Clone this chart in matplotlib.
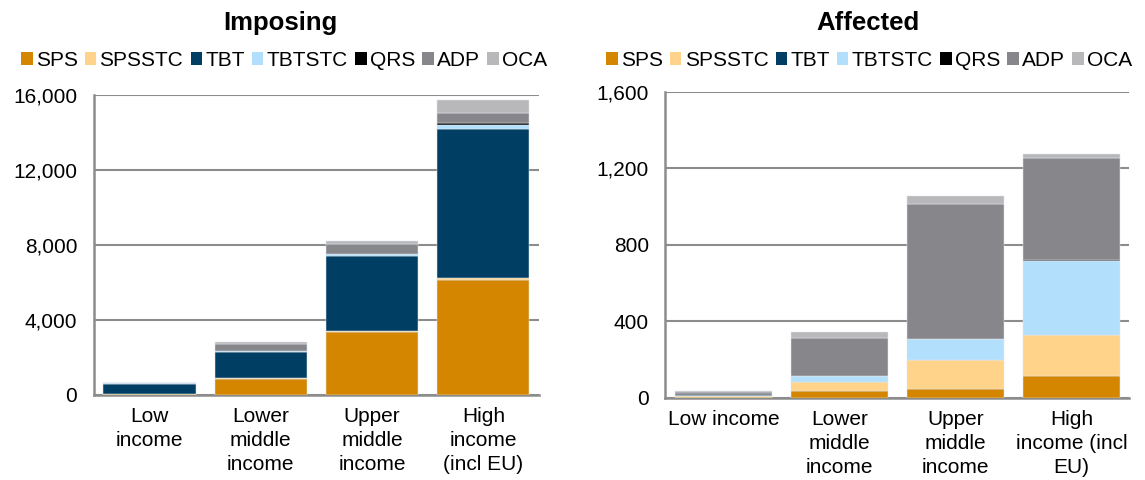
import matplotlib
matplotlib.use("Agg")
import matplotlib.pyplot as plt
import numpy as np

plt.rcParams['font.family'] = ['Liberation Sans', 'DejaVu Sans']

series = ["SPS", "SPSSTC", "TBT", "TBTSTC", "QRS", "ADP", "OCA"]
colors = ["#D58600", "#FFD38A", "#003F63", "#B2E0FC", "#000000", "#86868B", "#B8B8BB"]

imp_labels = ["Low\nincome", "Lower\nmiddle\nincome", "Upper\nmiddle\nincome", "High\nincome\n(incl EU)"]
aff_labels = ["Low income", "Lower\nmiddle\nincome", "Upper\nmiddle\nincome", "High\nincome (incl\nEU)"]

imposing = {
    "SPS":    [10, 850, 3350, 6100],
    "SPSSTC": [5, 30, 40, 120],
    "TBT":    [570, 1390, 3990, 7960],
    "TBTSTC": [5, 40, 90, 200],
    "QRS":    [3, 20, 50, 90],
    "ADP":    [5, 390, 530, 550],
    "OCA":    [2, 60, 120, 670],
}

affected = {
    "SPS":    [6, 35, 47, 113],
    "SPSSTC": [4, 49, 151, 214],
    "TBT":    [3, 1, 2, 1],
    "TBTSTC": [2, 30, 106, 389],
    "QRS":    [6, 1, 1, 1],
    "ADP":    [10, 196, 705, 536],
    "OCA":    [4, 32, 44, 21],
}

fig = plt.figure(figsize=(11.45, 4.8), dpi=100)

FS = 15

def draw(ax, data, labels, ymax, step, title, title_x, leg_x):
    x = np.arange(len(labels))
    bottom = np.zeros(len(labels))
    for s, c in zip(series, colors):
        vals = np.array(data[s], dtype=float)
        ax.bar(x, vals, bottom=bottom, width=0.83, color=c, label=s,
               edgecolor="#dfe6ee", linewidth=0.35, zorder=3)
        bottom += vals
    ax.set_xlim(-0.5, len(labels) - 0.5)
    ax.set_ylim(0, ymax)
    ticks = np.arange(0, ymax + 1, step)
    ax.set_yticks(ticks)
    ax.set_yticklabels([f"{int(t):,}" for t in ticks], fontsize=FS)
    ax.set_xticks(x)
    ax.set_xticklabels(labels, fontsize=FS, linespacing=1.33)
    ax.tick_params(axis='both', length=0)
    ax.tick_params(axis='x', pad=9)
    ax.tick_params(axis='y', pad=12)
    ax.grid(axis='y', color="#8c8c8c", linewidth=1.5, zorder=0)
    ax.set_axisbelow(True)
    for sp in ["top", "right"]:
        ax.spines[sp].set_visible(False)
    for sp in ["left", "bottom"]:
        ax.spines[sp].set_color("#8c8c8c")
        ax.spines[sp].set_linewidth(1.8)
    fig.text(title_x, 0.953, title, fontsize=18.5, fontweight='bold', ha='center', va='center')
    leg = fig.legend(*ax.get_legend_handles_labels(), loc='center', ncol=7,
                     bbox_to_anchor=(leg_x, 0.874), frameon=False, fontsize=FS,
                     handlelength=0.55, handleheight=0.55, handletextpad=0.15,
                     columnspacing=0.35, borderaxespad=0)
    for h in leg.legend_handles:
        h.set_edgecolor("none")

ax1 = fig.add_axes([0.0821, 0.178, 0.3886, 0.625])
draw(ax1, imposing, imp_labels, 16000, 4000, "Imposing", 0.245, 0.248)

ax2 = fig.add_axes([0.5812, 0.171, 0.4052, 0.638])
draw(ax2, affected, aff_labels, 1600, 400, "Affected", 0.758, 0.759)

fig.savefig("out.png", dpi=100)
